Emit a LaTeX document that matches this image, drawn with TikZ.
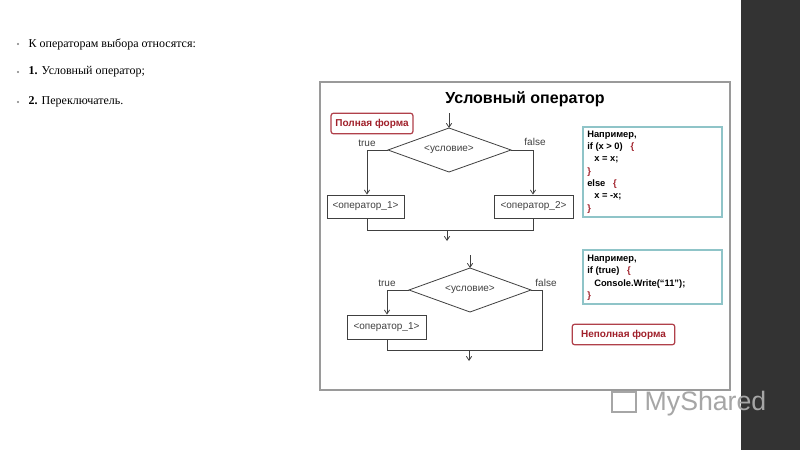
\documentclass[tikz,border=0pt]{standalone}
\usepackage{fontspec}
\setmainfont{Liberation Serif}
\newfontfamily\arial{Liberation Sans}
\usetikzlibrary{arrows.meta}
\definecolor{fr}{HTML}{9A9A9A}
\definecolor{redb}{HTML}{B0404A}
\definecolor{redt}{HTML}{A0202A}
\definecolor{teal}{HTML}{8FC4C8}
\definecolor{ln}{HTML}{404040}
\tikzset{
  px/.style={x=0.75pt,y=-0.75pt},
  box/.style={draw=ln,line width=0.6pt},
  conn/.style={draw=ln,line width=0.6pt},
  arr/.style={conn,-{Straight Barb[length=3pt,width=4pt]}},
  lbl/.style={font=\arial\fontsize{7.5}{9}\selectfont,text=ln},
  bul/.style={font=\fontsize{9}{10}\selectfont,anchor=west},
  codet/.style={font=\arial\bfseries\fontsize{7}{9}\selectfont,anchor=west,inner sep=0pt},
  redbox/.style={draw=redb,line width=0.9pt,rounded corners=2pt},
}
\begin{document}
\begin{tikzpicture}[px]
\useasboundingbox (0,0) rectangle (800,450);
\fill[white] (0,0) rectangle (800,450);
\fill[black!80] (741,0) rectangle (800,450);
% bullets
\foreach \yy in {44,72,102} \fill[gray] (18,\yy) circle (1.2);
\node[bul] (b1) at (24,44) {К операторам выбора относятся:};
\node[bul] (b2) at (24,72) {\textbf{1.} Условный оператор;};
\node[bul] (b3) at (24,102) {\textbf{2.} Переключатель.};
% frame
\draw[fr,line width=1pt] (320,82) rectangle (730,390);
\node[font=\arial\bfseries\fontsize{12}{14}\selectfont] (title) at (525,99) {Условный оператор};
\node[redbox,minimum width=61pt,minimum height=15.5pt,font=\arial\bfseries\fontsize{7.5}{9}\selectfont,text=redt] (pf) at (372,123.5) {Полная форма};
% diagram 1
\coordinate (s1) at (449,113);
\draw[box] (449,128) coordinate (d1t) -- (511,150) coordinate (d1r) -- (449,172) -- (388,150) coordinate (d1l) -- cycle;
\node[lbl] (c1) at (449,150) {<условие>};
\draw[arr] (s1) -- (d1t);
\node[box,minimum width=57.75pt,minimum height=17.25pt,lbl] (o1) at (365.5,206.5) {<оператор\_1>};
\node[box,minimum width=59.25pt,minimum height=17.25pt,lbl] (o2) at (533.5,206.5) {<оператор\_2>};
\node[lbl] (t1) at (367,143) {true};
\node[lbl] (f1) at (535,142) {false};
\draw[arr] (d1l) -- (367,150) -- (o1.north -| 367,0);
\draw[arr] (d1r) -- (533,150) -- (o2.north -| 533,0);
\coordinate (m1) at (447,230);
\draw[conn] (o1.south -| 367,0) -- (367,230) -- (533,230) -- (o2.south -| 533,0);
\draw[arr] (m1) -- (447,241);
% example 1
\draw[teal,line width=1pt] (583,127) rectangle (722,217);
\node[codet] (e1) at (587,135) {Например,};
\node[codet] (e2) at (587,147) {if (x > 0)~~~\textcolor{redt}{\{}};
\node[codet] (e3) at (594,160) {x = x;};
\node[codet] (e4) at (587,172) {\textcolor{redt}{\}}};
\node[codet] (e5) at (587,184) {else~~~\textcolor{redt}{\{}};
\node[codet] (e6) at (594,197) {x = -x;};
\node[codet] (e7) at (587,209) {\textcolor{redt}{\}}};
% diagram 2
\coordinate (s2) at (470,255);
\draw[box] (470,268) coordinate (d2t) -- (531,290) coordinate (d2r) -- (470,312) -- (409,290) coordinate (d2l) -- cycle;
\node[lbl] (c2) at (470,290) {<условие>};
\draw[arr] (s2) -- (d2t);
\node[lbl] (t2) at (387,283) {true};
\node[lbl] (f2) at (546,283) {false};
\node[box,minimum width=59.25pt,minimum height=18pt,lbl] (o3) at (386.5,327) {<оператор\_1>};
\draw[arr] (d2l) -- (387,290) -- (o3.north -| 387,0);
\draw[conn] (o3.south -| 387,0) -- (387,350) -- (542,350) -- (542,290) -- (d2r);
\coordinate (m2) at (469,350);
\draw[arr] (m2) -- (469,361);
% example 2
\draw[teal,line width=1pt] (583,250) rectangle (722,304);
\node[codet] (g1) at (587,259) {Например,};
\node[codet] (g2) at (587,271) {if (true)~~~\textcolor{redt}{\{}};
\node[codet] (g3) at (594,284) {Console.Write(“11”);};
\node[codet] (g4) at (587,296) {\textcolor{redt}{\}}};
\node[redbox,minimum width=77pt,minimum height=15.5pt,font=\arial\bfseries\fontsize{7.5}{9}\selectfont,text=redt] (nf) at (623.5,334.5) {Неполная форма};
% watermark
\node[font=\arial\fontsize{20}{22}\selectfont,text=gray!70,anchor=west] (ms) at (640,404) {MyShared};
\draw[gray!70,line width=1.5pt] (612,392) rectangle (636,412);
\end{tikzpicture}
\end{document}
